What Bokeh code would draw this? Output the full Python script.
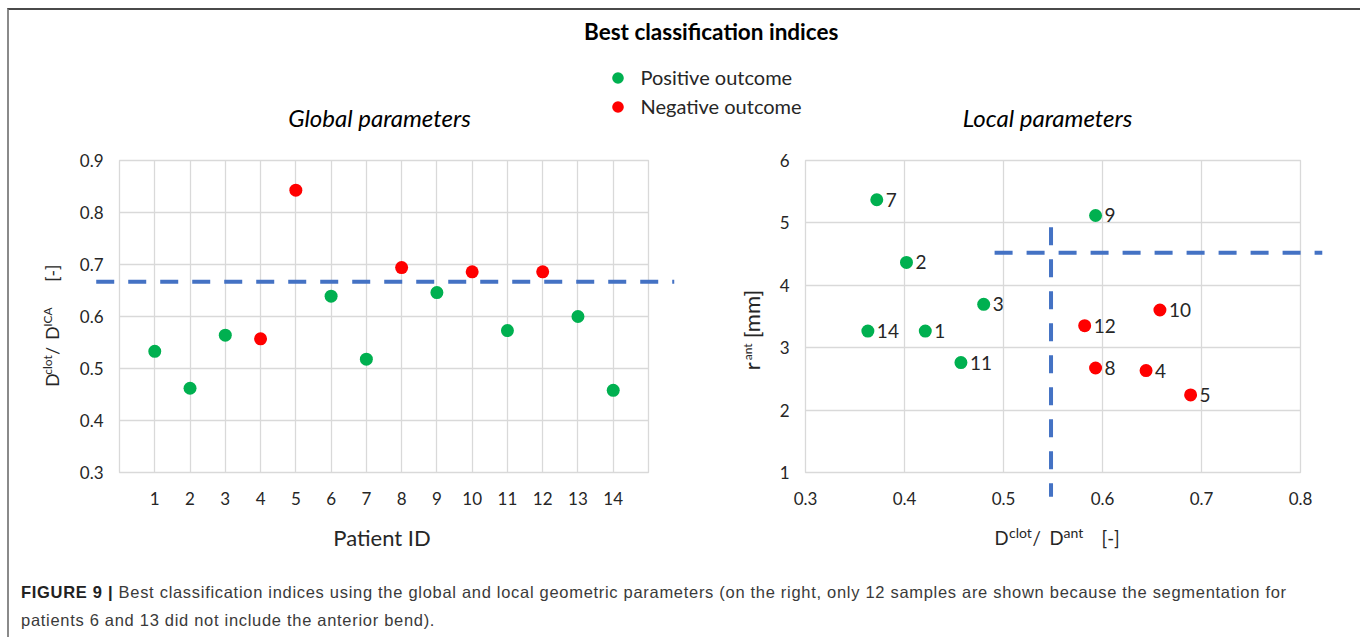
from bokeh.plotting import figure
from bokeh.models import Range1d, FixedTicker, Legend, LegendItem, ColumnDataSource, Div
from bokeh.layouts import column, row
from bokeh.core.properties import value
from bokeh.embed import file_html
from bokeh.resources import INLINE
import math

FONT = "Lato"
GREEN = "#00B050"
RED = "#FF0000"
BLUE = "#4472C4"
GRID = "#D9D9D9"
TXT = "#262626"

# ---------------- data ----------------
# Global parameters (left panel)
patient_ids = list(range(1, 15))
global_index = [0.533, 0.462, 0.564, 0.557, 0.843, 0.639, 0.518,
                0.694, 0.646, 0.686, 0.573, 0.686, 0.600, 0.458]
global_outcome = ["Positive", "Positive", "Positive", "Negative", "Negative", "Positive", "Positive",
                  "Negative", "Positive", "Negative", "Positive", "Negative", "Positive", "Positive"]
global_threshold = 0.667
left_y_ticks = [0.3, 0.4, 0.5, 0.6, 0.7, 0.8, 0.9]
left_y_labels = ["0.3", "0.4", "0.5", "0.6", "0.7", "0.8", "0.9"]
left_x_labels = [str(i) for i in patient_ids]

# Local parameters (right panel)
local_ids = [1, 2, 3, 4, 5, 7, 8, 9, 10, 11, 12, 14]
local_dclot_dant = [0.421, 0.402, 0.480, 0.644, 0.689, 0.372, 0.593, 0.593, 0.658, 0.457, 0.582, 0.363]
local_rant = [3.267, 4.367, 3.695, 2.633, 2.243, 5.371, 2.675, 5.119, 3.604, 2.761, 3.353, 3.267]
local_outcome = ["Positive", "Positive", "Positive", "Negative", "Negative", "Positive", "Negative",
                 "Positive", "Negative", "Positive", "Negative", "Positive"]
local_x_threshold = 0.548
local_y_threshold = 4.52
right_x_ticks = [0.3, 0.4, 0.5, 0.6, 0.7, 0.8]
right_x_labels = ["0.3", "0.4", "0.5", "0.6", "0.7", "0.8"]
right_y_ticks = [1, 2, 3, 4, 5, 6]
right_y_labels = ["1", "2", "3", "4", "5", "6"]

outcome_colors = {"Positive": GREEN, "Negative": RED}

# extents of the dashed threshold lines (they run past the plot areas)
left_line_x = [-0.66, 15.73]
right_h_line_x = [0.491, 0.822]
right_v_line_y = [4.93, 0.61]


def style_axes(p, xt, xl, yt, yl):
    p.xaxis.ticker = FixedTicker(ticks=xt)
    p.yaxis.ticker = FixedTicker(ticks=yt)
    p.xaxis.major_label_overrides = {t: l for t, l in zip(xt, xl)}
    p.yaxis.major_label_overrides = {t: l for t, l in zip(yt, yl)}
    for ax in (p.xaxis, p.yaxis):
        ax.axis_line_color = None
        ax.major_tick_line_color = None
        ax.minor_tick_line_color = None
        ax.major_tick_in = 0
        ax.major_tick_out = 0
        ax.major_label_standoff = 16
        ax.major_label_text_font = FONT
        ax.major_label_text_font_size = "17px"
        ax.major_label_text_color = TXT
    p.xaxis.major_label_standoff = 19
    p.xgrid.ticker = FixedTicker(ticks=xt)
    p.ygrid.ticker = FixedTicker(ticks=yt)
    p.grid.grid_line_color = GRID
    p.grid.grid_line_width = 1.3
    p.outline_line_color = GRID
    p.outline_line_width = 1.3


def label(p, x, y, text, dx, down, size, angle=0.0, align="left"):
    # free text outside the plot area (overlay level is not clipped to the frame)
    p.text(x=[x], y=[y], text=[text], x_offset=dx, y_offset=down, angle=angle,
           text_font=value(FONT), text_font_size=size, text_color=TXT,
           text_align=align, text_baseline="middle", level="overlay")


# ---------------- top strip: title, legend, panel titles ----------------
top = figure(width=1344, height=130, x_range=Range1d(10, 1354), y_range=Range1d(140, 10),
             x_axis_type=None, y_axis_type=None, min_border=0, outline_line_color=None,
             toolbar_location=None, output_backend="svg")
top.text(x=[711.7], y=[31.3], text=["Best classification indices"], text_font=value(FONT),
         text_font_style="bold", text_font_size="22.5px", text_align="center",
         text_baseline="middle", text_color="#000000")
top.text(x=[380, 1048], y=[116.5, 116.5], text=["Global parameters", "Local parameters"],
         text_font=value(FONT), text_font_style="italic", text_font_size="24px",
         text_align="center", text_baseline="middle", text_color="#000000")
nan = float("nan")
r_pos = top.scatter(x=[nan], y=[nan], size=12, fill_color=GREEN, line_color=None)
r_neg = top.scatter(x=[nan], y=[nan], size=12, fill_color=RED, line_color=None)
legend = Legend(items=[LegendItem(label="Positive outcome", renderers=[r_pos]),
                       LegendItem(label="Negative outcome", renderers=[r_neg])],
                location=(592.5, 19.2), orientation="vertical", glyph_width=31, glyph_height=29,
                label_standoff=8, spacing=0, padding=0, margin=0, border_line_color=None,
                background_fill_alpha=0, label_text_font=FONT, label_text_font_size="20px",
                label_text_color=TXT, label_height=29)
top.add_layout(legend)

# ---------------- left panel ----------------
left = figure(width=690, height=425, x_range=Range1d(0, 15), y_range=Range1d(0.3, 0.9),
              min_border_left=110, min_border_right=51, min_border_top=17, min_border_bottom=93,
              toolbar_location=None, output_backend="svg")
style_axes(left, patient_ids, left_x_labels, left_y_ticks, left_y_labels)
left_src = ColumnDataSource(dict(x=patient_ids, y=global_index,
                                 color=[outcome_colors[o] for o in global_outcome]))
left.line(x=left_line_x, y=[global_threshold, global_threshold], line_color=BLUE, line_width=4,
          line_dash="18 14", level="overlay")
left.scatter(x="x", y="y", source=left_src, size=13, fill_color="color", line_color=None)
label(left, 7.5, 0.3, "Patient ID", -2, 64.5, "22px", align="center")
# rotated y title: D^clot / D^ICA [-]
rot = math.pi / 2
for txt, dx, down, size in [("D", -67.5, 70.3, "17.5px"), ("clot", -72.5, 58.3, "12px"),
                            ("/", -67.5, 38.3, "17.5px"), ("D", -67.5, 23.3, "17.5px"),
                            ("ICA", -72.5, 10.3, "12px"), ("[-]", -67.5, -34.7, "17.5px")]:
    label(left, 0, 0.6, txt, dx, down, size, angle=rot)

# ---------------- right panel ----------------
right = figure(width=654, height=425, x_range=Range1d(0.3, 0.8), y_range=Range1d(1, 6),
               min_border_left=106, min_border_right=53, min_border_top=20, min_border_bottom=93,
               toolbar_location=None, output_backend="svg")
style_axes(right, right_x_ticks, right_x_labels, right_y_ticks, right_y_labels)
right.line(x=right_h_line_x, y=[local_y_threshold, local_y_threshold], line_color=BLUE,
           line_width=4, line_dash="18 14", level="overlay")
right.line(x=[local_x_threshold, local_x_threshold], y=right_v_line_y, line_color=BLUE,
           line_width=4, line_dash="18 14", level="overlay")
right_src = ColumnDataSource(dict(x=local_dclot_dant, y=local_rant,
                                  color=[outcome_colors[o] for o in local_outcome],
                                  name=[str(i) for i in local_ids]))
right.scatter(x="x", y="y", source=right_src, size=13, fill_color="color", line_color=None)
right.text(x="x", y="y", text="name", source=right_src, x_offset=9, text_baseline="middle",
           text_align="left", text_font=value(FONT), text_font_size="19px", text_color=TXT)
for txt, dx, down, size in [("D", 189, 65.5, "18.5px"), ("clot", 203.5, 60.3, "14px"),
                            ("/", 227, 65.5, "18.5px"), ("D", 244, 65.5, "18.5px"),
                            ("ant", 258, 60.3, "14px"), ("[-]", 296, 65.5, "18.5px")]:
    label(right, 0.3, 1, txt, dx, down, size)
for txt, dx, down, size in [("r", -53.7, 53.8, "22px"), ("ant", -58, 43.8, "12px"),
                            ("[mm]", -53.7, 21.8, "22px")]:
    label(right, 0.3, 3.5, txt, dx, down, size, angle=rot)

# ---------------- caption ----------------
caption = Div(text=(
    '<div style="font-family:\'Liberation Sans\'; font-size:16.5px; letter-spacing:0.7px; '
    'color:#3a3a3a; line-height:28px; white-space:nowrap; padding:8px 0 0 7px;">'
    '<b style="color:#222222">FIGURE 9 |</b> Best classification indices using the global and local '
    'geometric parameters (on the right, only 12 samples are shown because the segmentation for<br>'
    'patients 6 and 13 did not include the anterior bend).</div>'), width=1344, height=70)

layout = column(top, row(left, right), caption, margin=(8, 0, 0, 7),
                styles={"border-top": "2px solid #4a4a4a", "border-left": "2px solid #8a8a8a",
                        "border-right": "2px solid #8a8a8a", "background-color": "white"})

open("out.html", "w").write(file_html(layout, INLINE))
